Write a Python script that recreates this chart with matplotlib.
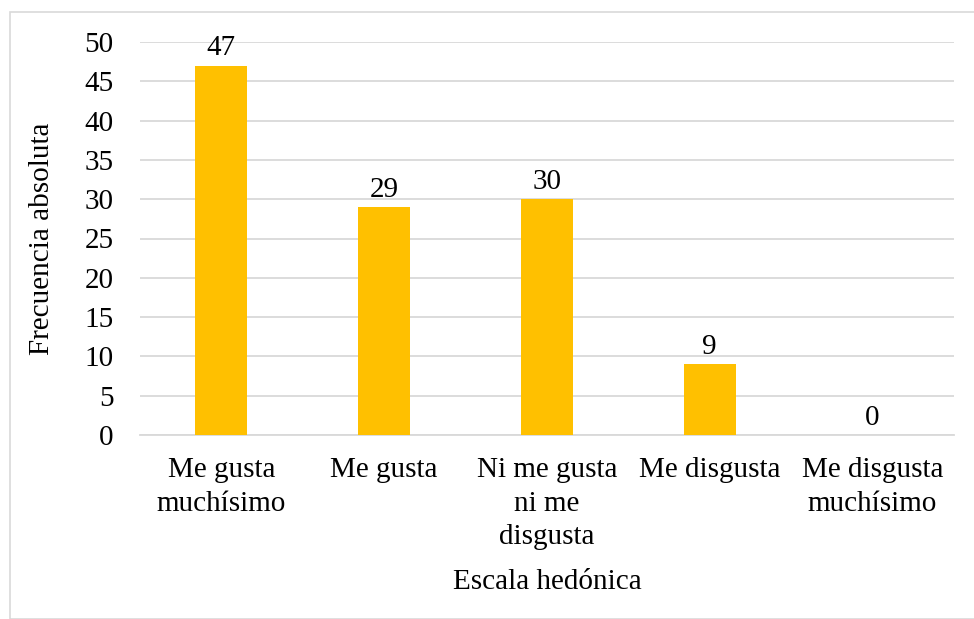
import matplotlib
matplotlib.use("Agg")
import matplotlib.pyplot as plt
from matplotlib.patches import Rectangle

categories = ["Me gusta\nmuchísimo", "Me gusta", "Ni me gusta\nni me\ndisgusta", "Me disgusta", "Me disgusta\nmuchísimo"]
values = [47, 29, 30, 9, 0]
yticks = [0, 5, 10, 15, 20, 25, 30, 35, 40, 45, 50]

plt.rcParams['font.family'] = ['Liberation Serif', 'DejaVu Serif']
FS = 21

W, H = 974, 619
fig = plt.figure(figsize=(W/100, H/100), dpi=100)
fig.patches.append(Rectangle((10/W, 0), 1, 1 - 12/H, transform=fig.transFigure,
                             fill=False, edgecolor='#d9d9d9', linewidth=1.2))

ax = fig.add_axes([140/W, 1 - 435/H, (954-140)/W, (435-42)/H])
x = range(len(categories))
ax.bar(x, values, width=0.32, color='#FFC000', zorder=3)
for xi, v in zip(x, values):
    ax.annotate(str(v), (xi, v), xytext=(0, 3), textcoords='offset points',
                ha='center', va='bottom', fontsize=FS)

ax.set_xlim(-0.5, len(categories) - 0.5)
ax.set_ylim(0, 50)
ax.set_yticks(yticks)
ax.yaxis.grid(True, color='#d9d9d9', linewidth=1.3, zorder=0)
for s in ['top', 'right', 'left']:
    ax.spines[s].set_visible(False)
ax.spines['bottom'].set_color('#d9d9d9')
ax.spines['bottom'].set_linewidth(1.3)
ax.tick_params(axis='both', length=0, labelsize=FS)
ax.tick_params(axis='y', pad=19)
ax.tick_params(axis='x', pad=16)
ax.set_xticks(list(x))
ax.set_xticklabels(categories, linespacing=1.38)
ax.set_ylabel("Frecuencia absoluta", fontsize=FS)
ax.yaxis.set_label_coords(-0.105, 0.5)
ax.set_xlabel("Escala hedónica", fontsize=FS)
ax.xaxis.set_label_coords(0.5, -0.34)

fig.savefig("out.png", dpi=100)
